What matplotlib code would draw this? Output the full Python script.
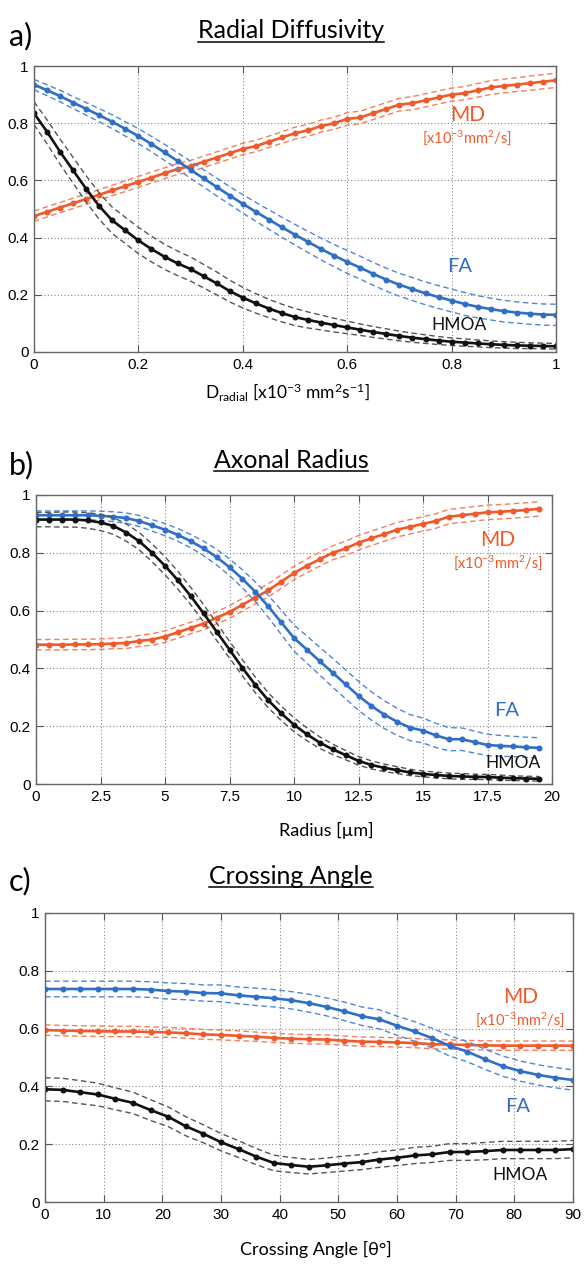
import matplotlib
matplotlib.use("Agg")
import matplotlib.pyplot as plt
import numpy as np
from matplotlib.lines import Line2D

plt.rcParams['mathtext.fontset'] = 'custom'
plt.rcParams['mathtext.rm'] = 'Lato'
plt.rcParams['mathtext.it'] = 'Lato:italic'
plt.rcParams['mathtext.bf'] = 'Lato:bold'

# ---------------- Panel a: Radial Diffusivity ----------------
a_x = [0, .025, .05, .075, .1, .125, .15, .175, .2, .225, .25, .275, .3, .325, .35, .375, .4,
       .425, .45, .475, .5, .525, .55, .575, .6, .625, .65, .675, .7, .725, .75, .775, .8,
       .825, .85, .875, .9, .925, .95, .975, 1.0]
a_md = [.475, .49, .505, .52, .535, .55, .565, .58, .595, .61, .625, .64, .65, .665, .68, .695, .71,
        .72, .735, .75, .765, .775, .79, .80, .815, .82, .835, .85, .865, .87, .88, .89, .90,
        .905, .915, .925, .93, .935, .94, .945, .95]
a_fa = [.935, .915, .895, .872, .85, .828, .805, .78, .755, .727, .698, .668, .637, .607, .577, .547, .518,
        .49, .463, .436, .41, .385, .36, .337, .315, .295, .273, .253, .235, .22, .205, .192, .18,
        .168, .158, .15, .143, .138, .134, .131, .13]
a_hm = [.835, .77, .70, .635, .57, .51, .46, .425, .39, .36, .333, .31, .29, .265, .24, .213, .19,
        .17, .152, .136, .122, .112, .103, .094, .086, .078, .07, .063, .056, .05, .045, .04, .036,
        .033, .03, .027, .025, .023, .022, .021, .02]
a_md_sd = [.018, .018, .018, .018, .018, .018, .018, .019, .019, .019, .019, .019, .02, .02, .02, .02, .02,
           .02, .02, .02, .021, .021, .021, .021, .022, .022, .022, .022, .022, .023, .023, .023, .023,
           .023, .024, .024, .024, .024, .025, .025, .025]
a_fa_sd = [.018, .019, .02, .021, .022, .023, .024, .025, .026, .027, .028, .029, .03, .03, .031, .031, .032,
           .033, .034, .035, .036, .037, .038, .039, .04, .04, .04, .04, .04, .04, .04, .04, .04,
           .04, .039, .038, .038, .037, .037, .037, .037]
a_hm_sd = [.04, .042, .044, .045, .046, .046, .046, .046, .046, .045, .044, .043, .042, .041, .04, .038, .036,
           .034, .032, .031, .03, .028, .026, .024, .022, .02, .019, .018, .017, .016, .015, .014, .013,
           .013, .012, .012, .011, .011, .01, .01, .01]

# ---------------- Panel b: Axonal Radius ----------------
b_x = [0, .5, 1, 1.5, 2, 2.5, 3, 3.5, 4, 4.5, 5, 5.5, 6, 6.5, 7, 7.5, 8, 8.5, 9, 9.5,
       10, 10.5, 11, 11.5, 12, 12.5, 13, 13.5, 14, 14.5, 15, 15.5, 16, 16.5, 17, 17.5, 18, 18.5, 19, 19.5]
b_md = [.482, .482, .482, .483, .483, .484, .486, .488, .495, .50, .51, .525, .54, .555, .575, .595, .62, .645, .67, .70,
        .73, .755, .778, .80, .815, .835, .85, .865, .88, .89, .90, .91, .925, .93, .935, .94, .942, .945, .948, .952]
b_fa = [.93, .93, .93, .93, .93, .928, .925, .92, .91, .895, .88, .862, .84, .815, .785, .75, .71, .665, .615, .56,
        .505, .465, .425, .385, .345, .305, .27, .24, .215, .195, .185, .168, .155, .155, .145, .135, .132, .13, .127, .125]
b_hm = [.915, .915, .915, .915, .912, .905, .893, .87, .84, .80, .755, .705, .65, .59, .527, .465, .402, .343, .29, .245,
        .205, .172, .143, .12, .10, .08, .066, .056, .048, .04, .035, .031, .028, .026, .025, .024, .022, .02, .019, .018]
b_md_sd = [.018, .018, .018, .018, .018, .018, .018, .019, .019, .02, .02, .02, .02, .021, .021, .022, .022, .022, .023, .023,
           .023, .024, .024, .024, .025, .025, .025, .025, .025, .025, .025, .025, .025, .025, .025, .025, .025, .025, .025, .025]
b_fa_sd = [.015, .015, .015, .015, .015, .016, .017, .018, .019, .02, .021, .022, .023, .025, .027, .029, .031, .034, .038, .042,
           .045, .047, .048, .05, .05, .05, .049, .048, .047, .045, .043, .042, .04, .039, .038, .037, .036, .035, .035, .035]
b_hm_sd = [.025, .025, .026, .026, .027, .028, .029, .03, .03, .031, .031, .031, .03, .03, .03, .029, .028, .027, .026, .025,
           .024, .022, .02, .018, .016, .015, .014, .013, .012, .011, .01, .01, .01, .01, .009, .009, .009, .008, .008, .008]

# ---------------- Panel c: Crossing Angle ----------------
c_x = [0, 3, 6, 9, 12, 15, 18, 21, 24, 27, 30, 33, 36, 39, 42, 45, 48, 51, 54, 57, 60,
       63, 66, 69, 72, 75, 78, 81, 84, 87, 90]
c_md = [.595, .593, .592, .591, .59, .59, .588, .587, .584, .58, .578, .575, .572, .568, .565, .563, .562, .558, .555, .554, .552,
        .55, .546, .545, .543, .542, .541, .541, .541, .541, .541]
c_fa = [.737, .737, .737, .737, .737, .737, .735, .73, .728, .723, .722, .715, .71, .705, .698, .688, .675, .66, .643, .632, .61,
        .59, .567, .54, .52, .494, .47, .453, .44, .43, .422]
c_hm = [.39, .388, .38, .372, .357, .343, .318, .295, .262, .236, .207, .183, .157, .135, .128, .122, .127, .133, .138, .147, .153,
        .161, .165, .173, .173, .176, .18, .18, .18, .18, .183]
c_md_sd = [.018, .018, .018, .018, .018, .018, .018, .017, .017, .017, .017, .017, .016, .016, .016, .016, .016, .016, .016, .016, .016,
           .016, .016, .016, .016, .016, .016, .016, .016, .016, .016]
c_fa_sd = [.027, .027, .027, .027, .027, .027, .027, .028, .028, .028, .029, .029, .03, .03, .03, .031, .031, .032, .032, .033, .033,
           .034, .034, .035, .035, .035, .035, .035, .035, .035, .035]
c_hm_sd = [.04, .04, .04, .039, .038, .037, .036, .034, .033, .031, .03, .029, .028, .027, .026, .025, .025, .026, .026, .027, .027,
           .028, .028, .029, .029, .03, .03, .03, .03, .03, .03]

MD_C = '#F05A2A'
FA_C = '#2F6FC6'
HM_C = '#111111'
MD_L = '#F47E5E'
FA_L = '#4F87D6'
HM_L = '#555555'

TICK_FONT = 'Liberation Sans'
LBL_FONT = 'Lato'

W, H = 585, 1265
fig = plt.figure(figsize=(W / 100, H / 100), dpi=100)


def px_axes(left, top, right, bottom):
    return fig.add_axes([left / W, 1 - bottom / H, (right - left) / W, (bottom - top) / H])


def draw_series(ax, x, y, sd, c, cl):
    x = np.asarray(x); y = np.asarray(y); sd = np.asarray(sd)
    ax.plot(x, y + sd, ls=(0, (4, 2.5)), color=cl, lw=1.0)
    ax.plot(x, y - sd, ls=(0, (4, 2.5)), color=cl, lw=1.0)
    ax.plot(x, y, '-o', color=c, lw=1.9, ms=3.3, mec=c, mfc=c)


def style(ax, xlim, xticks, xticklabels):
    ax.set_xlim(*xlim)
    ax.set_ylim(0, 1)
    ax.set_xticks(xticks)
    ax.set_xticklabels(xticklabels)
    ax.set_yticks([0, .2, .4, .6, .8, 1])
    ax.set_yticklabels(['0', '0.2', '0.4', '0.6', '0.8', '1'])
    ax.grid(True, ls=(0, (1, 2)), color='#888888', lw=0.8)
    ax.set_axisbelow(True)
    ax.tick_params(direction='in', top=True, right=True, length=5, width=0.8, color='#555555',
                   labelsize=11, pad=4)
    for lab in ax.get_xticklabels() + ax.get_yticklabels():
        lab.set_fontfamily(TICK_FONT)
    for s in ax.spines.values():
        s.set_color('#666666')
        s.set_linewidth(1.0)


def annotate(ax, md_xy, sub_xy, fa_xy, hm_xy):
    ax.text(*md_xy, 'MD', color=MD_C, fontsize=15, family=LBL_FONT, ha='center', va='center')
    ax.text(*sub_xy, r'[x10$^{-3}$mm$^{2}$/s]', color=MD_C, fontsize=10.5, family=LBL_FONT,
            ha='center', va='center')
    ax.text(*fa_xy, 'FA', color=FA_C, fontsize=14.5, family=LBL_FONT, ha='center', va='center')
    ax.text(*hm_xy, 'HMOA', color=HM_C, fontsize=12.5, family=LBL_FONT, ha='center', va='center')


titles = []


def header(letter, title, yc):
    fig.text(9 / W, 1 - yc / H, letter, fontsize=22, family=LBL_FONT, ha='left', va='center')
    t = fig.text(291 / W, 1 - (yc - 5) / H, title, fontsize=18, family=LBL_FONT,
                 ha='center', va='center')
    titles.append(t)


# Panel a
axa = px_axes(34, 66, 556, 352)
draw_series(axa, a_x, a_md, a_md_sd, MD_C, MD_L)
draw_series(axa, a_x, a_fa, a_fa_sd, FA_C, FA_L)
draw_series(axa, a_x, a_hm, a_hm_sd, HM_C, HM_L)
style(axa, (0, 1), [0, .2, .4, .6, .8, 1], ['0', '0.2', '0.4', '0.6', '0.8', '1'])
annotate(axa, (0.83, 0.83), (0.83, 0.75), (0.815, 0.30), (0.815, 0.095))
header('a)', 'Radial Diffusivity', 36)
fig.text(287 / W, 1 - 392 / H, r'D$_{\mathrm{radial}}$ [x10$^{-3}$ mm$^{2}$s$^{-1}$]',
         fontsize=12.5, family=LBL_FONT, ha='center', va='center')

# Panel b
axb = px_axes(36, 495, 552, 784)
draw_series(axb, b_x, b_md, b_md_sd, MD_C, MD_L)
draw_series(axb, b_x, b_fa, b_fa_sd, FA_C, FA_L)
draw_series(axb, b_x, b_hm, b_hm_sd, HM_C, HM_L)
style(axb, (0, 20), [0, 2.5, 5, 7.5, 10, 12.5, 15, 17.5, 20],
      ['0', '2.5', '5', '7.5', '10', '12.5', '15', '17.5', '20'])
annotate(axb, (17.9, 0.845), (17.9, 0.765), (18.25, 0.256), (18.5, 0.073))
header('b)', 'Axonal Radius', 465)
fig.text(326 / W, 1 - 830 / H, 'Radius [µm]', fontsize=13, family=LBL_FONT, ha='center', va='center')

# Panel c
axc = px_axes(45, 913, 573, 1202)
draw_series(axc, c_x, c_md, c_md_sd, MD_C, MD_L)
draw_series(axc, c_x, c_fa, c_fa_sd, FA_C, FA_L)
draw_series(axc, c_x, c_hm, c_hm_sd, HM_C, HM_L)
style(axc, (0, 90), list(range(0, 91, 10)), [str(v) for v in range(0, 91, 10)])
annotate(axc, (81, 0.71), (81, 0.63), (80.6, 0.33), (81, 0.093))
header('c)', 'Crossing Angle', 881)
fig.text(316 / W, 1 - 1249 / H, 'Crossing Angle [θ°]', fontsize=13, family=LBL_FONT,
         ha='center', va='center')

# underline titles
fig.canvas.draw()
r = fig.canvas.get_renderer()
for t in titles:
    bb = t.get_window_extent(r)
    x0, x1 = bb.x0 / W, bb.x1 / W
    yy = (bb.y0 + 1) / H
    fig.add_artist(Line2D([x0, x1], [yy, yy], color='black', lw=1.1, transform=fig.transFigure))

fig.savefig('out.png', dpi=100)
